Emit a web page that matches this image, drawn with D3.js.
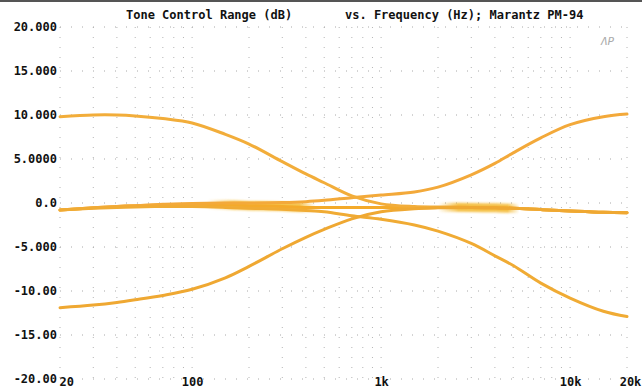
<!DOCTYPE html>
<html>
<head>
<meta charset="utf-8">
<script src="https://cdn.jsdelivr.net/npm/d3@7"></script>
<style>
  html, body { margin: 0; padding: 0; background: #fff; }
  svg { display: block; }
  text { font-family: "DejaVu Sans Mono", "Liberation Mono", monospace; font-weight: bold; }
</style>
</head>
<body>
<div id="chart"></div>
<script>
// Frequency points (Hz) shared by every trace
const freqs = [20, 30, 40, 50, 70, 100, 150, 200, 300, 400, 500, 700,
  1000, 1500, 2000, 3000, 4000, 5000, 7000, 10000, 15000, 20000];

// Level (dB) for each control setting
const flat = [-0.8, -0.55, -0.4, -0.3, -0.2, -0.15, -0.2, -0.3, -0.4, -0.5, -0.5, -0.5,
  -0.5, -0.5, -0.5, -0.5, -0.55, -0.6, -0.75, -0.9, -1.05, -1.1];
const bassBoost = [9.8, 10.0, 10.0, 9.9, 9.6, 9.1, 7.8, 6.7, 4.7, 3.3, 2.3, 0.8,
  -0.1, -0.4, -0.45, -0.5, -0.55, -0.6, -0.75, -0.9, -1.05, -1.1];
const bassCut = [-11.9, -11.6, -11.3, -11.0, -10.5, -9.8, -8.5, -7.2, -5.2, -3.9, -3.0, -1.8,
  -1.0, -0.65, -0.55, -0.5, -0.55, -0.6, -0.75, -0.9, -1.05, -1.1];
const trebleBoost = [-0.8, -0.55, -0.4, -0.3, -0.15, -0.05, 0, 0, 0.05, 0.15, 0.3, 0.6,
  0.9, 1.25, 1.8, 3.2, 4.5, 5.7, 7.4, 8.9, 9.8, 10.1];
const trebleCut = [-0.8, -0.6, -0.5, -0.45, -0.4, -0.4, -0.5, -0.6, -0.7, -0.85, -1.0, -1.45,
  -1.85, -2.5, -3.2, -4.6, -6.0, -7.1, -9.1, -10.8, -12.3, -12.9];

// Frequency ranges where the flat trace is smeared in the plot
const smearBands = [[120, 450], [2000, 5400]];

// Axis ticks
const yTicks = [-20, -15, -10, -5, 0, 5, 10, 15, 20];
const yTickLabels = ["-20.00", "-15.00", "-10.00", "-5.000", "0.0", "5.0000", "10.000", "15.000", "20.000"];
const xTicks = [20, 100, 1000, 10000, 20000];
const xTickLabels = ["20", "100", "1k", "10k", "20k"];
const xGrid = [20, 30, 40, 50, 60, 70, 80, 90, 100, 200, 300, 400, 500, 600, 700, 800, 900,
  1000, 2000, 3000, 4000, 5000, 6000, 7000, 8000, 9000, 10000, 20000];

const W = 642, H = 390;
const svg = d3.select('#chart').append('svg')
  .attr('width', W)
  .attr('height', H);

const x = d3.scaleLog().domain([20, 20000]).range([60, 627]);
const y = d3.scaleLinear().domain([-20, 20]).range([379, 27]);

// scan edge at the top
svg.append('line')
  .attr('x1', 0).attr('x2', W).attr('y1', 1).attr('y2', 1)
  .attr('stroke', '#555').attr('stroke-width', 2);

// dotted grid
svg.append('g')
  .selectAll('line.v')
  .data(xGrid)
  .enter().append('line')
  .attr('x1', d => x(d)).attr('x2', d => x(d))
  .attr('y1', y(20)).attr('y2', y(-20))
  .attr('stroke', '#b4b4b4')
  .attr('stroke-width', 1)
  .attr('stroke-dasharray', '1 9');

svg.append('g')
  .selectAll('line.h')
  .data(yTicks)
  .enter().append('line')
  .attr('x1', x(20)).attr('x2', x(20000))
  .attr('y1', d => y(d)).attr('y2', d => y(d))
  .attr('stroke', '#a8a8a8')
  .attr('stroke-width', 1)
  .attr('stroke-dasharray', '1 10');

// Axes (labels only)
const yAxis = svg.append('g')
  .attr('transform', `translate(${x(20) - 2},0)`)
  .call(d3.axisLeft(y).tickValues(yTicks).tickSize(0).tickPadding(1)
    .tickFormat((d, i) => yTickLabels[i]));
yAxis.select('.domain').remove();
yAxis.selectAll('text')
  .style('font-size', '12px')
  .style('font-family', '"DejaVu Sans Mono", monospace')
  .style('font-weight', 'bold')
  .attr('fill', '#111');

const xAxis = svg.append('g')
  .attr('transform', `translate(0,${y(-20)})`)
  .call(d3.axisBottom(x).tickValues(xTicks).tickSize(0).tickPadding(0)
    .tickFormat((d, i) => xTickLabels[i]));
xAxis.select('.domain').remove();
xAxis.selectAll('text')
  .style('font-size', '12px')
  .style('font-family', '"DejaVu Sans Mono", monospace')
  .style('font-weight', 'bold')
  .attr('fill', '#111')
  .attr('dy', '0.6em')
  .attr('text-anchor', (d, i) => i === 0 ? 'start' : 'middle')
  .attr('dx', (d, i) => i === 0 ? '-1' : (i === 4 ? '3' : '0'));

// Title
svg.append('text')
  .attr('x', 126).attr('y', 19)
  .style('font-size', '12px')
  .attr('fill', '#111')
  .text('Tone Control Range (dB)');
svg.append('text')
  .attr('x', 345).attr('y', 19)
  .style('font-size', '12px')
  .attr('fill', '#111')
  .text('vs. Frequency (Hz); Marantz PM-94');

// Audio Precision mark
svg.append('text')
  .attr('x', 601).attr('y', 45)
  .style('font-size', '11px')
  .style('font-weight', 'normal')
  .style('font-style', 'italic')
  .attr('fill', '#aaa')
  .text('ΛP');

// Traces
const line = d3.line()
  .x(d => x(d[0]))
  .y(d => y(d[1]))
  .curve(d3.curveCatmullRom.alpha(0.5));

const defs = svg.append('defs');
defs.append('filter').attr('id', 'smear')
  .attr('x', '-10%').attr('y', '-200%').attr('width', '120%').attr('height', '500%')
  .append('feGaussianBlur').attr('stdDeviation', 1.3);

// soft-edged masks for the smeared parts of the flat trace
smearBands.forEach(([lo, hi], i) => {
  const g = defs.append('linearGradient').attr('id', 'fade' + i)
    .attr('gradientUnits', 'userSpaceOnUse')
    .attr('x1', x(lo)).attr('x2', x(hi)).attr('y1', 0).attr('y2', 0);
  g.append('stop').attr('offset', '0%').attr('stop-color', '#fff').attr('stop-opacity', 0);
  g.append('stop').attr('offset', '25%').attr('stop-color', '#fff').attr('stop-opacity', 1);
  g.append('stop').attr('offset', '85%').attr('stop-color', '#fff').attr('stop-opacity', 1);
  g.append('stop').attr('offset', '100%').attr('stop-color', '#fff').attr('stop-opacity', 0);
  defs.append('mask').attr('id', 'band' + i)
    .attr('maskUnits', 'userSpaceOnUse')
    .attr('x', 0).attr('y', 0).attr('width', W).attr('height', H)
    .append('rect')
    .attr('x', x(lo)).attr('width', x(hi) - x(lo))
    .attr('y', y(20)).attr('height', y(-20) - y(20))
    .attr('fill', `url(#fade${i})`);
});

const flatPts = freqs.map((f, i) => [f, flat[i]]);
smearBands.forEach((b, i) => {
  svg.append('g')
    .attr('mask', `url(#band${i})`)
    .append('path')
    .datum(flatPts)
    .attr('fill', 'none')
    .attr('stroke', '#f2b21c')
    .attr('stroke-opacity', 0.8)
    .attr('stroke-width', 9)
    .attr('filter', 'url(#smear)')
    .attr('d', line);
});

const series = [
  { name: 'flat', values: flat, color: '#f4aa2a' },
  { name: 'trebleBoost', values: trebleBoost, color: '#f3a93a' },
  { name: 'trebleCut', values: trebleCut, color: '#f0ab34' },
  { name: 'bassBoost', values: bassBoost, color: '#f2ad3a' },
  { name: 'bassCut', values: bassCut, color: '#efa832' }
];

svg.append('g')
  .selectAll('path.trace')
  .data(series)
  .enter().append('path')
  .attr('class', 'trace')
  .attr('fill', 'none')
  .attr('stroke', d => d.color)
  .attr('stroke-width', 3)
  .attr('stroke-linecap', 'round')
  .attr('d', d => line(freqs.map((f, i) => [f, d.values[i]])));
</script>
</body>
</html>
